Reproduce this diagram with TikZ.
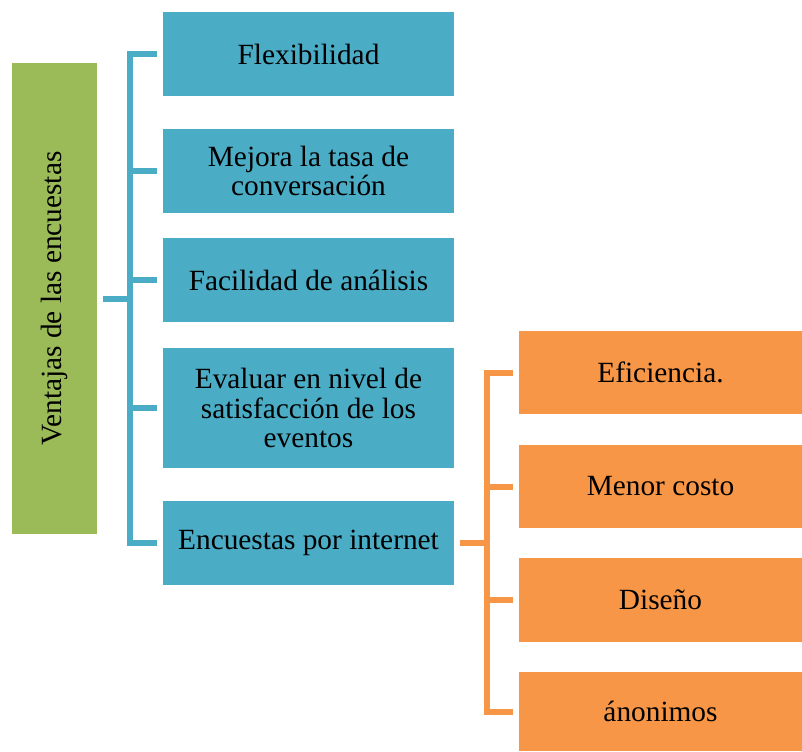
\documentclass[tikz,border=0pt]{standalone}
\usepackage{fontspec}
\setmainfont{Liberation Serif}
\definecolor{aqua}{HTML}{4BACC6}
\definecolor{olive}{HTML}{9BBB59}
\definecolor{tangerine}{HTML}{F79646}

\begin{document}
\begin{tikzpicture}
  [x=0.75pt,y=-0.75pt,
   every node/.style={inner sep=2pt,align=center,font=\fontsize{22}{22.3}\selectfont},
   mainbox/.style={fill=olive,rotate=90,minimum width=353.25pt,minimum height=63.75pt},
   bluebox/.style={fill=aqua,minimum width=218.25pt,minimum height=63pt},
   orangebox/.style={fill=tangerine,minimum width=212.25pt,minimum height=62.25pt},
   bline/.style={draw=aqua,line width=4.5pt},
   oline/.style={draw=tangerine,line width=4.5pt}]
  \useasboundingbox (0,0) rectangle (802,751);

  \node[mainbox] (ven) at (54.5,298.5) {Ventajas de las encuestas};

  \node[bluebox] (b1) at (308.5,54)  {Flexibilidad};
  \node[bluebox] (b2) at (308.5,171) {Mejora la tasa de\\conversación};
  \node[bluebox] (b3) at (308.5,280) {Facilidad de análisis};
  \node[bluebox,minimum height=90pt] (b4) at (308.5,408) {Evaluar en nivel de\\satisfacción de los\\eventos};
  \node[bluebox] (b5) at (308.5,543) {Encuestas por internet};

  \node[orangebox] (o1) at (660.5,372.5) {Eficiencia.};
  \node[orangebox] (o2) at (660.5,486.5) {Menor costo};
  \node[orangebox,minimum height=63pt] (o3) at (660.5,600) {Diseño};
  \node[orangebox,minimum height=59.25pt] (o4) at (660.5,711.5) {ánonimos};

  \coordinate (bs) at (130,298.5);
  \coordinate (os) at (487,543);

  \draw[bline] ([xshift=4.5pt]ven.south) -- (bs);
  \foreach \to in {b1,b2,b3,b4,b5}
  \draw[bline] (bs) |- ([xshift=-4.5pt]\to.west);

  \draw[oline] ([xshift=4.5pt]b5.east) -- (os);
  \foreach \to in {o1,o2,o3,o4}
  \draw[oline] (os) |- ([xshift=-4.5pt]\to.west);

\end{tikzpicture}
\end{document}
